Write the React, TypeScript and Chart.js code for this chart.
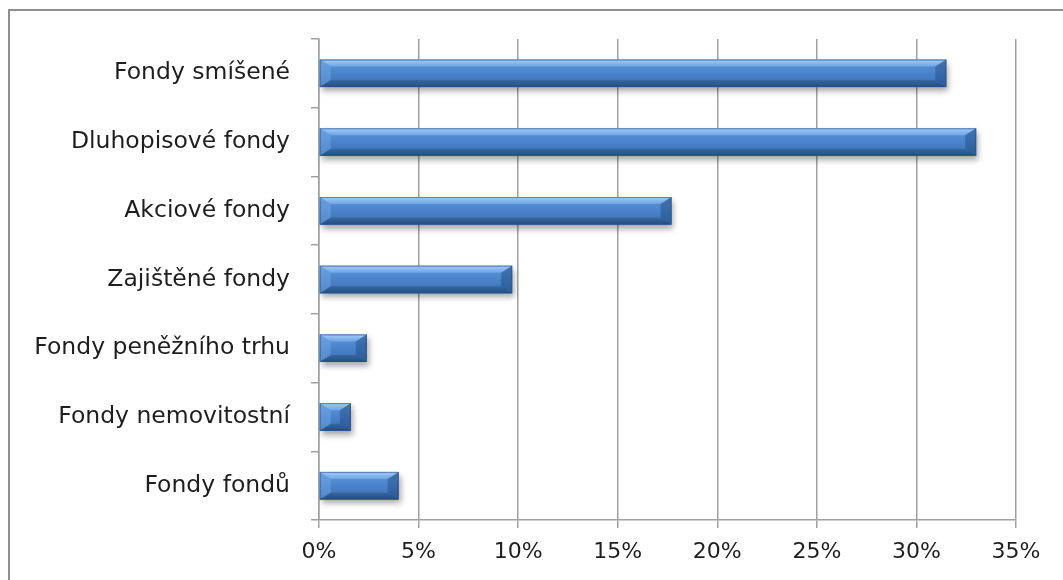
import React, { useEffect, useRef } from "react";
import { Chart, registerables } from "chart.js";

Chart.register(...registerables);

const categories = [
  "Fondy smíšené",
  "Dluhopisové fondy",
  "Akciové fondy",
  "Zajištěné fondy",
  "Fondy peněžního trhu",
  "Fondy nemovitostní",
  "Fondy fondů",
];
const shares = [31.5, 33.0, 17.7, 9.7, 2.4, 1.6, 4.0];
const axisMin = 0;
const axisMax = 35;
const axisStep = 5;

const FONT = "DejaVu Sans";

function poly(ctx: any, pts: number[][], fill: any) {
  ctx.fillStyle = fill;
  ctx.beginPath();
  ctx.moveTo(pts[0][0], pts[0][1]);
  for (let i = 1; i < pts.length; i++) ctx.lineTo(pts[i][0], pts[i][1]);
  ctx.closePath();
  ctx.fill();
}

const bevelPlugin = {
  id: "bevel",
  beforeDatasetDraw(chart: any) {
    const ctx = chart.ctx;
    ctx.save();
    ctx.shadowColor = "rgba(0,0,0,0.35)";
    ctx.shadowBlur = 6;
    ctx.shadowOffsetX = 2;
    ctx.shadowOffsetY = 4;
  },
  afterDatasetDraw(chart: any) {
    const ctx = chart.ctx;
    ctx.restore();
    const meta = chart.getDatasetMeta(0);
    meta.data.forEach((bar: any) => {
      const x0 = Math.min(bar.base, bar.x);
      const x1 = Math.max(bar.base, bar.x);
      const y0 = bar.y - bar.height / 2;
      const y1 = bar.y + bar.height / 2;
      const h = y1 - y0;
      ctx.save();
      const g = ctx.createLinearGradient(0, y0, 0, y1);
      g.addColorStop(0, "#5f97dc");
      g.addColorStop(0.5, "#4a83cb");
      g.addColorStop(1, "#3a6db0");
      ctx.fillStyle = g;
      ctx.fillRect(x0, y0, x1 - x0, h);
      const s = Math.min(11, (x1 - x0) / 2);
      const t = 7;
      const gt = ctx.createLinearGradient(0, y0, 0, y0 + t);
      gt.addColorStop(0, "#a3cbf6");
      gt.addColorStop(1, "#6ea5e6");
      poly(ctx, [[x0, y0], [x1, y0], [x1 - s, y0 + t], [x0 + s, y0 + t]], gt);
      const gb = ctx.createLinearGradient(0, y1 - t, 0, y1);
      gb.addColorStop(0, "#36679f");
      gb.addColorStop(1, "#244d84");
      poly(ctx, [[x0, y1], [x1, y1], [x1 - s, y1 - t], [x0 + s, y1 - t]], gb);
      poly(ctx, [[x0, y0], [x0 + s, y0 + t], [x0 + s, y1 - t], [x0, y1]], "rgba(120,170,230,0.45)");
      poly(ctx, [[x1, y0], [x1 - s, y0 + t], [x1 - s, y1 - t], [x1, y1]], "rgba(30,70,125,0.45)");
      ctx.strokeStyle = "rgba(40,80,135,0.6)";
      ctx.lineWidth = 1;
      ctx.strokeRect(x0 + 0.5, y0 + 0.5, x1 - x0 - 1, h - 1);
      ctx.restore();
    });
  },
};

export default function App() {
  const ref = useRef<HTMLCanvasElement | null>(null);
  useEffect(() => {
    document.body.style.margin = "0";
    document.body.style.overflow = "hidden";
    const chart = new Chart(ref.current as HTMLCanvasElement, {
      type: "bar",
      data: {
        labels: categories,
        datasets: [
          {
            data: shares,
            backgroundColor: "#4a80c4",
            borderWidth: 0,
            barPercentage: 0.4,
            categoryPercentage: 1,
          },
        ],
      },
      plugins: [bevelPlugin],
      options: {
        indexAxis: "y",
        animation: false,
        responsive: false,
        layout: { padding: { top: 39, right: 47, left: 0, bottom: 0 } },
        plugins: { legend: { display: false }, tooltip: { enabled: false } },
        scales: {
          x: {
            min: axisMin,
            max: axisMax,
            ticks: {
              stepSize: axisStep,
              callback: (v: any) => v + "%",
              color: "#1e1e1e",
              font: { family: FONT, size: 22 },
              padding: 11,
            },
            grid: { color: "#a0a0a0", lineWidth: 1.5, tickLength: 8 },
            border: { color: "#a0a0a0", width: 1.5 },
            afterFit: (s: any) => {
              s.height = 60;
            },
          },
          y: {
            ticks: {
              color: "#1e1e1e",
              font: { family: FONT, size: 23.5 },
              padding: 21,
            },
            grid: {
              drawOnChartArea: false,
              color: "#a0a0a0",
              lineWidth: 1.5,
              tickLength: 8,
              offset: true,
            },
            border: { color: "#a0a0a0", width: 1.5 },
            afterFit: (s: any) => {
              s.width = 319;
            },
          },
        },
      },
    });
    return () => chart.destroy();
  }, []);
  return (
    <div>
      <div
        style={{
          position: "fixed",
          left: 8,
          top: 9,
          width: 2000,
          height: 2000,
          border: "2px solid #8f8f8f",
        }}
      />
      <canvas
        ref={ref}
        width={1063}
        height={580}
        style={{ position: "fixed", left: 0, top: 0, display: "block" }}
      />
    </div>
  );
}
